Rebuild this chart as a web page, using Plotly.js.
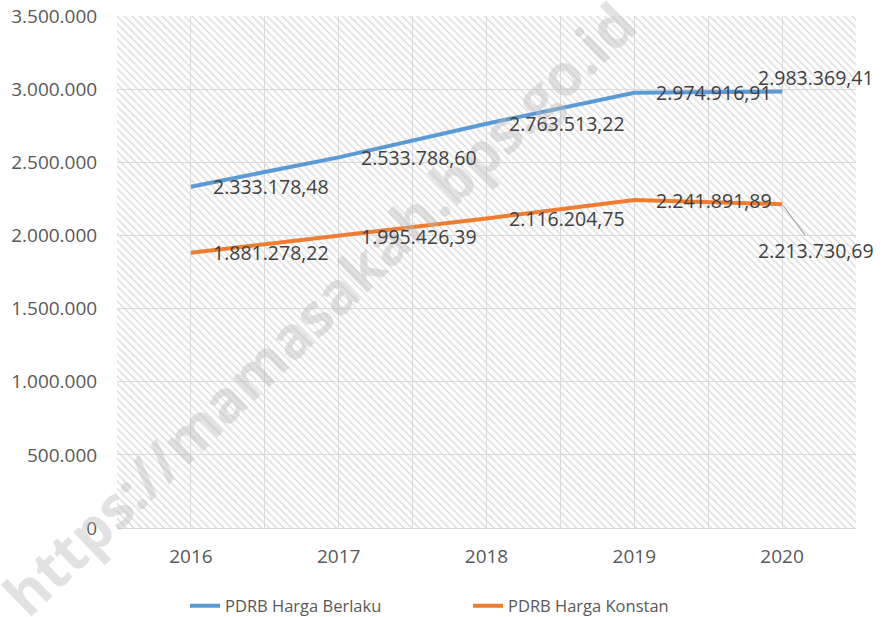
<!DOCTYPE html>
<html>
<head>
<meta charset="utf-8">
<script src="https://cdn.plot.ly/plotly-3.0.1.min.js"></script>
<style>html,body{margin:0;padding:0;background:#fff;}#chart{width:881px;height:617px;}</style>
</head>
<body>
<div id="chart"></div>
<script>
// ---- data ----
const years = [2016, 2017, 2018, 2019, 2020];
const berlaku = [2333178.48, 2533788.60, 2763513.22, 2974916.91, 2983369.41];
const konstan = [1881278.22, 1995426.39, 2116204.75, 2241891.89, 2213730.69];
const seriesNames = ['PDRB Harga Berlaku', 'PDRB Harga Konstan'];
const yTicks = [0, 500000, 1000000, 1500000, 2000000, 2500000, 3000000, 3500000];
const watermark = 'https://mamasakah.bps.go.id';

function fmt(v) {
  const parts = v.toFixed(2).split('.');
  return parts[0].replace(/\B(?=(\d{3})+(?!\d))/g, '.') + ',' + parts[1];
}

const FONT = 'Open Sans, sans-serif';
const W = 881, H = 617, ML = 117, MR = 25, MT = 16, MB = 89;
const PW = W - ML - MR, PH = H - MT - MB;

// hatched plot background
const hatch = `<svg xmlns="http://www.w3.org/2000/svg" width="${PW}" height="${PH}" viewBox="0 0 ${PW} ${PH}">` +
  `<defs><pattern id="p" patternUnits="userSpaceOnUse" width="7.5" height="7.5">` +
  `<path d="M0,0 L7.5,7.5 M-2,5.5 L2,9.5 M5.5,-2 L9.5,2" stroke="#d8d8d8" stroke-width="1.3"/></pattern></defs>` +
  `<rect width="100%" height="100%" fill="url(#p)"/></svg>`;

const traces = [
  {x: years, y: berlaku, name: seriesNames[0], type: 'scatter', mode: 'lines',
   line: {color: '#5B9BD5', width: 4}, hoverinfo: 'skip'},
  {x: years, y: konstan, name: seriesNames[1], type: 'scatter', mode: 'lines',
   line: {color: '#ED7D31', width: 4}, hoverinfo: 'skip'}
];

const annotations = [{
  text: watermark, xref: 'paper', yref: 'paper',
  x: (318 - ML) / PW, y: 1 - (308 - MT) / PH, xanchor: 'center', yanchor: 'middle',
  showarrow: false, textangle: -44,
  font: {family: FONT, size: 58, color: 'rgba(185,185,185,0.42)', weight: 'bold'}
}];

const lblFont = {family: FONT, size: 19.5, color: '#404040'};
[berlaku, konstan].forEach((arr, s) => {
  arr.forEach((v, i) => {
    const a = {x: years[i], y: v, text: fmt(v), font: lblFont, showarrow: false,
               xanchor: 'left', yanchor: 'middle', xshift: 20};
    if (i === years.length - 1) {
      a.xanchor = 'center';
      if (s === 0) { a.xshift = 34; a.yshift = 14; }
      else {
        a.xshift = 0; a.showarrow = true; a.ax = 34; a.ay = 46; a.arrowhead = 0;
        a.arrowcolor = '#a6a6a6'; a.arrowwidth = 1.2; a.standoff = 2;
      }
    }
    annotations.push(a);
  });
});

const tickFont = {family: FONT, size: 19, color: '#595959'};
const layout = {
  width: W, height: H,
  margin: {l: ML, r: MR, t: MT, b: MB},
  paper_bgcolor: '#ffffff', plot_bgcolor: 'rgba(0,0,0,0)',
  separators: ',.',
  font: {family: FONT, size: 17, color: '#595959'},
  showlegend: true,
  xaxis: {
    range: [2015.5, 2020.5], tickmode: 'array', tickvals: years, ticktext: years.map(String),
    showgrid: true, gridcolor: '#d9d9d9', gridwidth: 1,
    minor: {tick0: 2015.5, dtick: 1, showgrid: true, gridcolor: '#d9d9d9', gridwidth: 1, ticks: ''},
    showline: true, linecolor: '#d9d9d9', linewidth: 1,
    ticks: 'outside', ticklen: 11, tickcolor: 'rgba(0,0,0,0)',
    zeroline: false, fixedrange: true,
    tickfont: tickFont
  },
  yaxis: {
    range: [0, 3500000], tickmode: 'array', tickvals: yTicks, tickformat: ',d',
    showgrid: true, gridcolor: '#d9d9d9', gridwidth: 1, zeroline: false,
    showline: false, ticks: 'outside', ticklen: 15, tickcolor: 'rgba(0,0,0,0)',
    fixedrange: true,
    tickfont: tickFont
  },
  legend: {
    orientation: 'h', xref: 'container', yref: 'container',
    x: 185 / W, xanchor: 'left', y: 1 - 606 / H, yanchor: 'middle',
    font: {family: FONT, size: 16.5, color: '#595959'}, itemwidth: 30,
    entrywidth: 238, entrywidthmode: 'pixels',
    bgcolor: 'rgba(0,0,0,0)'
  },
  images: [{
    source: 'data:image/svg+xml;charset=utf-8,' + encodeURIComponent(hatch),
    xref: 'paper', yref: 'paper', x: 0, y: 1, sizex: 1, sizey: 1,
    sizing: 'stretch', xanchor: 'left', yanchor: 'top', layer: 'below'
  }],
  annotations: annotations
};

Plotly.newPlot('chart', traces, layout, {displayModeBar: false, staticPlot: true});
</script>
</body>
</html>
